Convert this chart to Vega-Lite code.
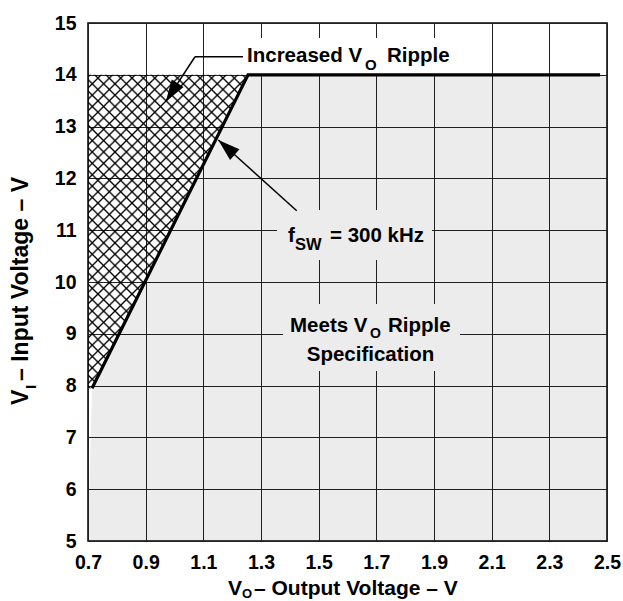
{
  "$schema": "https://vega.github.io/schema/vega-lite/v6.json",
  "width": 519,
  "height": 518,
  "autosize": {"type": "none"},
  "padding": {"left": 88, "top": 23, "right": 16, "bottom": 60},
  "background": "white",
  "config": {
    "font": "Liberation Sans",
    "view": {"stroke": "#000", "strokeWidth": 1.5},
    "axis": {
      "grid": true, "gridColor": "#222", "gridWidth": 1, "gridOpacity": 1,
      "ticks": false, "domain": false,
      "labelFont": "Liberation Sans", "labelFontWeight": "bold", "labelFontSize": 19.5,
      "labelColor": "#000", "labelFlush": false, "labelOverlap": false,
      "titleColor": "transparent"
    }
  },
  "data": {"values": [{}]},
  "datasets": {
    "gray": [{"vo": 0.7, "vi": 5}, {"vo": 0.714, "vi": 7.95}, {"vo": 1.255, "vi": 14}],
    "hatch": [{"vo": 0.714, "vi": 7.95}, {"vo": 1.255, "vi": 14}],
    "boundary": [{"vo": 0.714, "vi": 7.95}, {"vo": 1.255, "vi": 14}, {"vo": 2.476, "vi": 14}]
  },
  "layer": [
    {
      "data": {"name": "gray"},
      "mark": {"type": "area", "orient": "horizontal", "color": "#000", "opacity": 0.075},
      "encoding": {
        "y": {"field": "vi", "type": "quantitative", "scale": {"domain": [5, 15], "nice": false, "zero": false},
              "axis": {"values": [5, 6, 7, 8, 9, 10, 11, 12, 13, 14, 15], "format": "d", "labelPadding": 12, "title": null}},
        "x": {"field": "vo", "type": "quantitative", "scale": {"domain": [0.7, 2.5], "nice": false, "zero": false},
              "axis": {"values": [0.7, 0.9, 1.1, 1.3, 1.5, 1.7, 1.9, 2.1, 2.3, 2.5], "format": ".1f", "labelPadding": 12, "title": null}},
        "x2": {"datum": 2.5}
      }
    },
    {
      "data": {"name": "hatch"},
      "mark": {"type": "area", "orient": "horizontal", "fill": {"gradient": "linear", "x1": 0, "y1": 0, "x2": 0.6117, "y2": 1.1983, "stops": [
        {"offset": 0, "color": "transparent"}, {"offset": 0.004, "color": "#000"}, {"offset": 0.008, "color": "transparent"},
        {"offset": 0.024, "color": "transparent"}, {"offset": 0.028, "color": "#000"}, {"offset": 0.032, "color": "transparent"},
        {"offset": 0.048, "color": "transparent"}, {"offset": 0.052, "color": "#000"}, {"offset": 0.056, "color": "transparent"},
        {"offset": 0.072, "color": "transparent"}, {"offset": 0.076, "color": "#000"}, {"offset": 0.08, "color": "transparent"},
        {"offset": 0.096, "color": "transparent"}, {"offset": 0.1, "color": "#000"}, {"offset": 0.104, "color": "transparent"},
        {"offset": 0.12, "color": "transparent"}, {"offset": 0.124, "color": "#000"}, {"offset": 0.128, "color": "transparent"},
        {"offset": 0.144, "color": "transparent"}, {"offset": 0.148, "color": "#000"}, {"offset": 0.152, "color": "transparent"},
        {"offset": 0.168, "color": "transparent"}, {"offset": 0.172, "color": "#000"}, {"offset": 0.176, "color": "transparent"},
        {"offset": 0.192, "color": "transparent"}, {"offset": 0.196, "color": "#000"}, {"offset": 0.2, "color": "transparent"},
        {"offset": 0.216, "color": "transparent"}, {"offset": 0.22, "color": "#000"}, {"offset": 0.224, "color": "transparent"},
        {"offset": 0.24, "color": "transparent"}, {"offset": 0.244, "color": "#000"}, {"offset": 0.248, "color": "transparent"},
        {"offset": 0.264, "color": "transparent"}, {"offset": 0.268, "color": "#000"}, {"offset": 0.272, "color": "transparent"},
        {"offset": 0.288, "color": "transparent"}, {"offset": 0.292, "color": "#000"}, {"offset": 0.296, "color": "transparent"},
        {"offset": 0.312, "color": "transparent"}, {"offset": 0.316, "color": "#000"}, {"offset": 0.32, "color": "transparent"},
        {"offset": 0.336, "color": "transparent"}, {"offset": 0.34, "color": "#000"}, {"offset": 0.344, "color": "transparent"},
        {"offset": 0.36, "color": "transparent"}, {"offset": 0.364, "color": "#000"}, {"offset": 0.368, "color": "transparent"},
        {"offset": 0.384, "color": "transparent"}, {"offset": 0.388, "color": "#000"}, {"offset": 0.392, "color": "transparent"},
        {"offset": 0.408, "color": "transparent"}, {"offset": 0.412, "color": "#000"}, {"offset": 0.416, "color": "transparent"},
        {"offset": 0.432, "color": "transparent"}, {"offset": 0.436, "color": "#000"}, {"offset": 0.44, "color": "transparent"},
        {"offset": 0.456, "color": "transparent"}, {"offset": 0.46, "color": "#000"}, {"offset": 0.464, "color": "transparent"},
        {"offset": 0.48, "color": "transparent"}, {"offset": 0.484, "color": "#000"}, {"offset": 0.488, "color": "transparent"},
        {"offset": 0.504, "color": "transparent"}, {"offset": 0.508, "color": "#000"}, {"offset": 0.512, "color": "transparent"},
        {"offset": 0.528, "color": "transparent"}, {"offset": 0.532, "color": "#000"}, {"offset": 0.536, "color": "transparent"},
        {"offset": 0.552, "color": "transparent"}, {"offset": 0.556, "color": "#000"}, {"offset": 0.56, "color": "transparent"},
        {"offset": 0.576, "color": "transparent"}, {"offset": 0.58, "color": "#000"}, {"offset": 0.584, "color": "transparent"},
        {"offset": 0.6, "color": "transparent"}, {"offset": 0.604, "color": "#000"}, {"offset": 0.608, "color": "transparent"},
        {"offset": 0.624, "color": "transparent"}, {"offset": 0.628, "color": "#000"}, {"offset": 0.632, "color": "transparent"},
        {"offset": 0.648, "color": "transparent"}, {"offset": 0.652, "color": "#000"}, {"offset": 0.656, "color": "transparent"},
        {"offset": 0.672, "color": "transparent"}, {"offset": 0.676, "color": "#000"}, {"offset": 0.68, "color": "transparent"},
        {"offset": 0.696, "color": "transparent"}, {"offset": 0.7, "color": "#000"}, {"offset": 0.704, "color": "transparent"},
        {"offset": 0.72, "color": "transparent"}, {"offset": 0.724, "color": "#000"}, {"offset": 0.728, "color": "transparent"},
        {"offset": 0.744, "color": "transparent"}, {"offset": 0.748, "color": "#000"}, {"offset": 0.752, "color": "transparent"},
        {"offset": 0.768, "color": "transparent"}, {"offset": 0.772, "color": "#000"}, {"offset": 0.776, "color": "transparent"},
        {"offset": 0.792, "color": "transparent"}, {"offset": 0.796, "color": "#000"}, {"offset": 0.8, "color": "transparent"},
        {"offset": 0.816, "color": "transparent"}, {"offset": 0.82, "color": "#000"}, {"offset": 0.824, "color": "transparent"},
        {"offset": 0.84, "color": "transparent"}, {"offset": 0.844, "color": "#000"}, {"offset": 0.848, "color": "transparent"},
        {"offset": 0.864, "color": "transparent"}, {"offset": 0.868, "color": "#000"}, {"offset": 0.872, "color": "transparent"},
        {"offset": 0.888, "color": "transparent"}, {"offset": 0.892, "color": "#000"}, {"offset": 0.896, "color": "transparent"},
        {"offset": 0.912, "color": "transparent"}, {"offset": 0.916, "color": "#000"}, {"offset": 0.92, "color": "transparent"},
        {"offset": 0.936, "color": "transparent"}, {"offset": 0.94, "color": "#000"}, {"offset": 0.944, "color": "transparent"},
        {"offset": 0.96, "color": "transparent"}, {"offset": 0.964, "color": "#000"}, {"offset": 0.968, "color": "transparent"},
        {"offset": 0.984, "color": "transparent"}, {"offset": 0.988, "color": "#000"}, {"offset": 0.992, "color": "transparent"},
        {"offset": 1, "color": "transparent"}
      ]}},
      "encoding": {
        "y": {"field": "vi", "type": "quantitative"},
        "x": {"field": "vo", "type": "quantitative"},
        "x2": {"datum": 0.7}
      }
    },
    {
      "data": {"name": "hatch"},
      "mark": {"type": "area", "orient": "horizontal", "fill": {"gradient": "linear", "x1": 0, "y1": 1, "x2": 0.6117, "y2": -0.1983, "stops": [
        {"offset": 0, "color": "transparent"}, {"offset": 0.004, "color": "#000"}, {"offset": 0.008, "color": "transparent"},
        {"offset": 0.024, "color": "transparent"}, {"offset": 0.028, "color": "#000"}, {"offset": 0.032, "color": "transparent"},
        {"offset": 0.048, "color": "transparent"}, {"offset": 0.052, "color": "#000"}, {"offset": 0.056, "color": "transparent"},
        {"offset": 0.072, "color": "transparent"}, {"offset": 0.076, "color": "#000"}, {"offset": 0.08, "color": "transparent"},
        {"offset": 0.096, "color": "transparent"}, {"offset": 0.1, "color": "#000"}, {"offset": 0.104, "color": "transparent"},
        {"offset": 0.12, "color": "transparent"}, {"offset": 0.124, "color": "#000"}, {"offset": 0.128, "color": "transparent"},
        {"offset": 0.144, "color": "transparent"}, {"offset": 0.148, "color": "#000"}, {"offset": 0.152, "color": "transparent"},
        {"offset": 0.168, "color": "transparent"}, {"offset": 0.172, "color": "#000"}, {"offset": 0.176, "color": "transparent"},
        {"offset": 0.192, "color": "transparent"}, {"offset": 0.196, "color": "#000"}, {"offset": 0.2, "color": "transparent"},
        {"offset": 0.216, "color": "transparent"}, {"offset": 0.22, "color": "#000"}, {"offset": 0.224, "color": "transparent"},
        {"offset": 0.24, "color": "transparent"}, {"offset": 0.244, "color": "#000"}, {"offset": 0.248, "color": "transparent"},
        {"offset": 0.264, "color": "transparent"}, {"offset": 0.268, "color": "#000"}, {"offset": 0.272, "color": "transparent"},
        {"offset": 0.288, "color": "transparent"}, {"offset": 0.292, "color": "#000"}, {"offset": 0.296, "color": "transparent"},
        {"offset": 0.312, "color": "transparent"}, {"offset": 0.316, "color": "#000"}, {"offset": 0.32, "color": "transparent"},
        {"offset": 0.336, "color": "transparent"}, {"offset": 0.34, "color": "#000"}, {"offset": 0.344, "color": "transparent"},
        {"offset": 0.36, "color": "transparent"}, {"offset": 0.364, "color": "#000"}, {"offset": 0.368, "color": "transparent"},
        {"offset": 0.384, "color": "transparent"}, {"offset": 0.388, "color": "#000"}, {"offset": 0.392, "color": "transparent"},
        {"offset": 0.408, "color": "transparent"}, {"offset": 0.412, "color": "#000"}, {"offset": 0.416, "color": "transparent"},
        {"offset": 0.432, "color": "transparent"}, {"offset": 0.436, "color": "#000"}, {"offset": 0.44, "color": "transparent"},
        {"offset": 0.456, "color": "transparent"}, {"offset": 0.46, "color": "#000"}, {"offset": 0.464, "color": "transparent"},
        {"offset": 0.48, "color": "transparent"}, {"offset": 0.484, "color": "#000"}, {"offset": 0.488, "color": "transparent"},
        {"offset": 0.504, "color": "transparent"}, {"offset": 0.508, "color": "#000"}, {"offset": 0.512, "color": "transparent"},
        {"offset": 0.528, "color": "transparent"}, {"offset": 0.532, "color": "#000"}, {"offset": 0.536, "color": "transparent"},
        {"offset": 0.552, "color": "transparent"}, {"offset": 0.556, "color": "#000"}, {"offset": 0.56, "color": "transparent"},
        {"offset": 0.576, "color": "transparent"}, {"offset": 0.58, "color": "#000"}, {"offset": 0.584, "color": "transparent"},
        {"offset": 0.6, "color": "transparent"}, {"offset": 0.604, "color": "#000"}, {"offset": 0.608, "color": "transparent"},
        {"offset": 0.624, "color": "transparent"}, {"offset": 0.628, "color": "#000"}, {"offset": 0.632, "color": "transparent"},
        {"offset": 0.648, "color": "transparent"}, {"offset": 0.652, "color": "#000"}, {"offset": 0.656, "color": "transparent"},
        {"offset": 0.672, "color": "transparent"}, {"offset": 0.676, "color": "#000"}, {"offset": 0.68, "color": "transparent"},
        {"offset": 0.696, "color": "transparent"}, {"offset": 0.7, "color": "#000"}, {"offset": 0.704, "color": "transparent"},
        {"offset": 0.72, "color": "transparent"}, {"offset": 0.724, "color": "#000"}, {"offset": 0.728, "color": "transparent"},
        {"offset": 0.744, "color": "transparent"}, {"offset": 0.748, "color": "#000"}, {"offset": 0.752, "color": "transparent"},
        {"offset": 0.768, "color": "transparent"}, {"offset": 0.772, "color": "#000"}, {"offset": 0.776, "color": "transparent"},
        {"offset": 0.792, "color": "transparent"}, {"offset": 0.796, "color": "#000"}, {"offset": 0.8, "color": "transparent"},
        {"offset": 0.816, "color": "transparent"}, {"offset": 0.82, "color": "#000"}, {"offset": 0.824, "color": "transparent"},
        {"offset": 0.84, "color": "transparent"}, {"offset": 0.844, "color": "#000"}, {"offset": 0.848, "color": "transparent"},
        {"offset": 0.864, "color": "transparent"}, {"offset": 0.868, "color": "#000"}, {"offset": 0.872, "color": "transparent"},
        {"offset": 0.888, "color": "transparent"}, {"offset": 0.892, "color": "#000"}, {"offset": 0.896, "color": "transparent"},
        {"offset": 0.912, "color": "transparent"}, {"offset": 0.916, "color": "#000"}, {"offset": 0.92, "color": "transparent"},
        {"offset": 0.936, "color": "transparent"}, {"offset": 0.94, "color": "#000"}, {"offset": 0.944, "color": "transparent"},
        {"offset": 0.96, "color": "transparent"}, {"offset": 0.964, "color": "#000"}, {"offset": 0.968, "color": "transparent"},
        {"offset": 0.984, "color": "transparent"}, {"offset": 0.988, "color": "#000"}, {"offset": 0.992, "color": "transparent"},
        {"offset": 1, "color": "transparent"}
      ]}},
      "encoding": {
        "y": {"field": "vi", "type": "quantitative"},
        "x": {"field": "vo", "type": "quantitative"},
        "x2": {"datum": 0.7}
      }
    },
    {
      "mark": {"type": "rect", "fill": "#fff"},
      "encoding": {"x": {"datum": 1.2376}, "x2": {"datum": 1.9659}, "y": {"datum": 14.71}, "y2": {"datum": 14.0}}
    },
    {
      "mark": {"type": "rect", "fill": "#ececec"},
      "encoding": {"x": {"datum": 1.3555}, "x2": {"datum": 1.8931}, "y": {"datum": 11.39}, "y2": {"datum": 10.425}}
    },
    {
      "mark": {"type": "rect", "fill": "#ececec"},
      "encoding": {"x": {"datum": 1.3763}, "x2": {"datum": 1.9902}, "y": {"datum": 9.575}, "y2": {"datum": 8.28}}
    },
    {
      "data": {"name": "boundary"},
      "mark": {"type": "line", "color": "#000", "strokeWidth": 3.2, "strokeCap": "butt"},
      "encoding": {
        "x": {"field": "vo", "type": "quantitative"},
        "y": {"field": "vi", "type": "quantitative"}
      }
    },
    {
      "mark": {"type": "text", "text": "Increased V", "align": "left", "baseline": "alphabetic", "fontSize": 20.5, "fontWeight": "bold", "color": "#000"},
      "encoding": {"x": {"datum": 1.2515}, "y": {"datum": 14.247}}
    },
    {
      "mark": {"type": "text", "text": "O", "align": "left", "baseline": "alphabetic", "fontSize": 15, "fontWeight": "bold", "color": "#000"},
      "encoding": {"x": {"datum": 1.6607}, "y": {"datum": 14.093}}
    },
    {
      "mark": {"type": "text", "text": "Ripple", "align": "left", "baseline": "alphabetic", "fontSize": 20.5, "fontWeight": "bold", "color": "#000"},
      "encoding": {"x": {"datum": 1.737}, "y": {"datum": 14.247}}
    },
    {
      "mark": {"type": "text", "text": "f", "align": "left", "baseline": "alphabetic", "fontSize": 20.5, "fontWeight": "bold", "color": "#000"},
      "encoding": {"x": {"datum": 1.3937}, "y": {"datum": 10.772}}
    },
    {
      "mark": {"type": "text", "text": "SW", "align": "left", "baseline": "alphabetic", "fontSize": 16.5, "fontWeight": "bold", "color": "#000"},
      "encoding": {"x": {"datum": 1.4179}, "y": {"datum": 10.618}}
    },
    {
      "mark": {"type": "text", "text": "= 300 kHz", "align": "left", "baseline": "alphabetic", "fontSize": 20.5, "fontWeight": "bold", "color": "#000"},
      "encoding": {"x": {"datum": 1.5393}, "y": {"datum": 10.772}}
    },
    {
      "mark": {"type": "text", "text": "Meets V", "align": "left", "baseline": "alphabetic", "fontSize": 20.5, "fontWeight": "bold", "color": "#000"},
      "encoding": {"x": {"datum": 1.4006}, "y": {"datum": 9.035}}
    },
    {
      "mark": {"type": "text", "text": "O", "align": "left", "baseline": "alphabetic", "fontSize": 14, "fontWeight": "bold", "color": "#000"},
      "encoding": {"x": {"datum": 1.678}, "y": {"datum": 8.919}}
    },
    {
      "mark": {"type": "text", "text": "Ripple", "align": "left", "baseline": "alphabetic", "fontSize": 20.5, "fontWeight": "bold", "color": "#000"},
      "encoding": {"x": {"datum": 1.7405}, "y": {"datum": 9.035}}
    },
    {
      "mark": {"type": "text", "text": "Specification", "align": "center", "baseline": "alphabetic", "fontSize": 20.5, "fontWeight": "bold", "color": "#000"},
      "encoding": {"x": {"datum": 1.6798}, "y": {"datum": 8.475}}
    },
    {
      "mark": {"type": "text", "text": "V", "align": "left", "baseline": "alphabetic", "fontSize": 21, "fontWeight": "bold", "color": "#000"},
      "encoding": {"x": {"datum": 1.1856}, "y": {"datum": 3.958}}
    },
    {
      "mark": {"type": "text", "text": "O", "align": "left", "baseline": "alphabetic", "fontSize": 13, "fontWeight": "bold", "color": "#000"},
      "encoding": {"x": {"datum": 1.2341}, "y": {"datum": 3.9}}
    },
    {
      "mark": {"type": "text", "text": "– Output Voltage – V", "align": "left", "baseline": "alphabetic", "fontSize": 21, "fontWeight": "bold", "color": "#000"},
      "encoding": {"x": {"datum": 1.2757}, "y": {"datum": 3.958}}
    },
    {
      "mark": {"type": "text", "text": "V", "align": "left", "baseline": "alphabetic", "fontSize": 23, "fontWeight": "bold", "color": "#000", "angle": 270},
      "encoding": {"x": {"datum": 0.4919}, "y": {"datum": 7.625}}
    },
    {
      "mark": {"type": "text", "text": "I", "align": "left", "baseline": "alphabetic", "fontSize": 15, "fontWeight": "bold", "color": "#000", "angle": 270},
      "encoding": {"x": {"datum": 0.5197}, "y": {"datum": 7.934}}
    },
    {
      "mark": {"type": "text", "text": "– Input Voltage – V", "align": "left", "baseline": "alphabetic", "fontSize": 23, "fontWeight": "bold", "color": "#000", "angle": 270},
      "encoding": {"x": {"datum": 0.4919}, "y": {"datum": 8.089}}
    },
    {
      "mark": {"type": "rule", "color": "#000", "strokeWidth": 1.5},
      "encoding": {"x": {"datum": 1.2376}, "y": {"datum": 14.349}, "x2": {"datum": 1.0711}, "y2": {"datum": 14.349}}
    },
    {
      "mark": {"type": "rule", "color": "#000", "strokeWidth": 1.5},
      "encoding": {"x": {"datum": 1.0711}, "y": {"datum": 14.349}, "x2": {"datum": 0.9695}, "y2": {"datum": 13.481}}
    },
    {
      "mark": {"type": "rule", "color": "#000", "strokeWidth": 1.5},
      "encoding": {"x": {"datum": 1.4238}, "y": {"datum": 11.376}, "x2": {"datum": 1.1519}, "y2": {"datum": 12.741}}
    },
    {
      "mark": {"type": "point", "shape": "M0,0L0.32,1L-0.32,1Z", "filled": true, "color": "#000", "opacity": 1, "size": 1936, "angle": 213, "strokeWidth": 0},
      "encoding": {"x": {"datum": 0.9695}, "y": {"datum": 13.481}}
    },
    {
      "mark": {"type": "point", "shape": "M0,0L0.32,1L-0.32,1Z", "filled": true, "color": "#000", "opacity": 1, "size": 1936, "angle": 311.6, "strokeWidth": 0},
      "encoding": {"x": {"datum": 1.1519}, "y": {"datum": 12.741}}
    }
  ]
}
